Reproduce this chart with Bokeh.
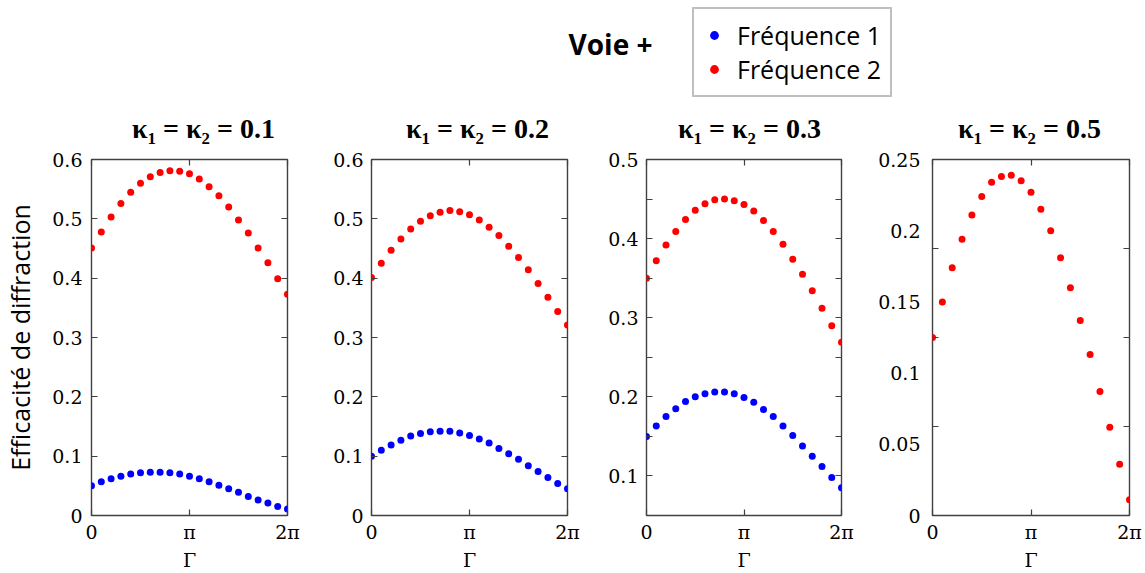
import math
from bokeh.plotting import figure
from bokeh.layouts import column, row
from bokeh.models import (Range1d, FixedTicker, LinearAxis, CustomJSTickFormatter,
                          Legend, LegendItem, Label, CustomLabelingPolicy)
from bokeh.embed import file_html
from bokeh.resources import INLINE

# ---------------- data ----------------
steps = list(range(21))                       # Γ = step * π / 10
gamma = [s * math.pi / 10 for s in steps]

titles = ["κ₁ = κ₂ = 0.1", "κ₁ = κ₂ = 0.2", "κ₁ = κ₂ = 0.3", "κ₁ = κ₂ = 0.5"]

freq2_k01 = [0.451, 0.478, 0.503, 0.526, 0.545, 0.560, 0.571, 0.578, 0.581, 0.580, 0.576,
             0.567, 0.554, 0.539, 0.520, 0.498, 0.476, 0.451, 0.426, 0.399, 0.373]
freq1_k01 = [0.050, 0.057, 0.062, 0.066, 0.070, 0.072, 0.073, 0.073, 0.072, 0.070, 0.066,
             0.062, 0.057, 0.051, 0.045, 0.039, 0.032, 0.026, 0.021, 0.015, 0.011]
freq2_k02 = [0.401, 0.425, 0.447, 0.466, 0.483, 0.496, 0.505, 0.511, 0.514, 0.512, 0.507,
             0.498, 0.486, 0.472, 0.454, 0.435, 0.414, 0.391, 0.368, 0.344, 0.321]
freq1_k02 = [0.100, 0.110, 0.119, 0.127, 0.134, 0.138, 0.141, 0.142, 0.142, 0.139, 0.135,
             0.129, 0.122, 0.113, 0.104, 0.095, 0.084, 0.074, 0.064, 0.054, 0.045]
freq2_k03 = [0.350, 0.372, 0.392, 0.409, 0.424, 0.436, 0.444, 0.449, 0.450, 0.448, 0.443,
             0.435, 0.423, 0.409, 0.393, 0.374, 0.355, 0.334, 0.312, 0.290, 0.269]
freq1_k03 = [0.150, 0.163, 0.175, 0.185, 0.194, 0.200, 0.204, 0.206, 0.206, 0.204, 0.199,
             0.193, 0.184, 0.175, 0.163, 0.151, 0.138, 0.125, 0.112, 0.098, 0.085]
freq2_k05 = [0.125, 0.150, 0.174, 0.194, 0.211, 0.224, 0.234, 0.238, 0.239, 0.235, 0.227,
             0.215, 0.200, 0.181, 0.160, 0.137, 0.113, 0.087, 0.062, 0.036, 0.011]

x_ticks = [0, math.pi, 2 * math.pi]
y_ticks_12 = [0, 0.1, 0.2, 0.3, 0.4, 0.5, 0.6]
y_ticks_3 = [0.1, 0.2, 0.3, 0.4, 0.5]
y_minor_3 = [0.15, 0.25, 0.35, 0.45]
y_ticks_4 = [0, 0.05, 0.1, 0.15, 0.2, 0.25]
y_marks_4 = [0.0625, 0.125, 0.1875]

series_labels = ["Fréquence 1", "Fréquence 2"]
y_label = "Efficacité de diffraction"
x_label = "Γ"
BLUE = "#0000ff"
RED = "#ff0000"
FRAME = "#404040"
SERIF = "DejaVu Serif"
TITLE_FONT = "Liberation Serif"
SANS = "Open Sans"

HEADER_H = 145
PANEL_H = 428

x_fmt = CustomJSTickFormatter(code="""
const r = Math.round(tick / Math.PI * 100) / 100;
if (r == 0) return '0';
if (r == 1) return 'π';
if (r == 2) return '2π';
return '';
""")
y_fmt_code = "return Number(tick.toFixed(4)).toString();"


def hidden_axis(ticker):
    ax = LinearAxis(ticker=ticker, major_label_text_font_size="0px",
                    major_label_standoff=0, axis_line_color=None,
                    major_label_policy=CustomLabelingPolicy(
                        code="for (const i of indices) { indices.unset(i) }\nreturn indices"),
                    major_tick_in=6, major_tick_out=0, minor_tick_in=0, minor_tick_out=0,
                    major_tick_line_color=FRAME, major_tick_line_width=1.2)
    return ax


def make_panel(y_range, reds, blues, width, b_left, b_right, b_top, b_bottom,
               y_major, y_minor=None, y_tick_major=True, right_marks=None,
               label_standoff=8, ylabel=None):
    p = figure(width=width, height=PANEL_H, x_range=Range1d(0, 2 * math.pi),
               y_range=Range1d(*y_range), toolbar_location=None, output_backend="svg",
               min_border_left=b_left, min_border_right=b_right,
               min_border_top=b_top, min_border_bottom=b_bottom)
    p.grid.visible = False
    p.outline_line_color = FRAME
    p.outline_line_width = 1.4
    p.outline_line_alpha = 1.0
    p.background_fill_color = "white"
    p.border_fill_color = "white"

    # bottom axis
    xa = p.xaxis[0]
    xa.ticker = FixedTicker(ticks=x_ticks)
    xa.formatter = x_fmt
    xa.axis_line_color = None
    xa.major_tick_in = 6
    xa.major_tick_out = 0
    xa.minor_tick_in = 0
    xa.minor_tick_out = 0
    xa.major_tick_line_color = FRAME
    xa.major_tick_line_width = 1.2
    xa.major_label_text_font = SERIF
    xa.major_label_text_font_size = "19px"
    xa.major_label_text_color = "black"
    xa.major_label_standoff = 5
    xa.axis_label = x_label
    xa.axis_label_text_font = SERIF
    xa.axis_label_text_font_style = "normal"
    xa.axis_label_text_font_size = "19px"
    xa.axis_label_text_color = "black"
    xa.axis_label_standoff = 3

    # left axis
    ya = p.yaxis[0]
    ya.ticker = FixedTicker(ticks=y_major, minor_ticks=(y_minor or []))
    ya.formatter = CustomJSTickFormatter(code=y_fmt_code)
    ya.axis_line_color = None
    ya.major_tick_in = 6 if y_tick_major else 0
    ya.major_tick_out = 0
    ya.minor_tick_in = 6
    ya.minor_tick_out = 0
    ya.major_tick_line_color = FRAME
    ya.minor_tick_line_color = FRAME
    ya.major_tick_line_width = 1.2
    ya.minor_tick_line_width = 1.2
    ya.major_label_text_font = SERIF
    ya.major_label_text_font_size = "19px"
    ya.major_label_text_color = "black"
    ya.major_label_standoff = label_standoff
    if ylabel:
        ya.axis_label = ylabel
        ya.axis_label_text_font = SANS
        ya.axis_label_text_font_style = "normal"
        ya.axis_label_text_font_size = "25px"
        ya.axis_label_text_color = "black"
        ya.axis_label_standoff = 12

    # mirrored tick marks (box)
    if right_marks is not None:
        p.add_layout(hidden_axis(FixedTicker(ticks=right_marks)), "right")
    else:
        p.add_layout(hidden_axis(FixedTicker(ticks=y_major + (y_minor or []))), "right")
    p.add_layout(hidden_axis(FixedTicker(ticks=x_ticks)), "above")

    if blues is not None:
        p.scatter(gamma, blues, size=7, color=BLUE, line_color=None)
    p.scatter(gamma, reds, size=7, color=RED, line_color=None)
    return p


p1 = make_panel((0, 0.6), freq2_k01, freq1_k01, 320, 91, 33, 14, 57,
                y_ticks_12, label_standoff=9, ylabel=y_label)
p2 = make_panel((0, 0.6), freq2_k02, freq1_k02, 282, 51, 35, 14, 57, y_ticks_12)
p3 = make_panel((0.05, 0.5), freq2_k03, freq1_k03, 273, 44, 34, 14, 57,
                y_ticks_3, y_minor=y_minor_3)
p4 = make_panel((0, 0.25), freq2_k05, None, 270, 55, 16, 12, 56,
                y_ticks_4, y_minor=y_marks_4, y_tick_major=False, right_marks=y_marks_4,
                label_standoff=12)

# ---------------- header: main title, legend, panel titles ----------------
h = figure(width=1145, height=HEADER_H, x_range=Range1d(0, 1145), y_range=Range1d(0, HEADER_H),
           toolbar_location=None, output_backend="svg", min_border=0)
h.axis.visible = False
h.grid.visible = False
h.outline_line_color = None
# legend proxies (same styling as the panel markers, not drawn themselves)
lb = h.scatter(gamma, freq1_k01, size=8, color=BLUE, line_color=None, visible=False)
lr = h.scatter(gamma, freq2_k01, size=8, color=RED, line_color=None, visible=False)
h.add_layout(Label(x=610, y=HEADER_H - 43, text="Voie +", text_font=SANS,
                   text_font_style="bold", text_font_size="28px", text_align="center",
                   text_baseline="middle", text_color="black"))
title_x = [203, 477, 749, 1029]
for tx, tt in zip(title_x, titles):
    h.add_layout(Label(x=tx, y=HEADER_H - 128, text=tt, text_font=TITLE_FONT,
                       text_font_style="bold", text_font_size="28px", text_align="center",
                       text_baseline="middle", text_color="black"))
legend = Legend(items=[LegendItem(label=series_labels[0], renderers=[lb]),
                       LegendItem(label=series_labels[1], renderers=[lr])],
                location=(692, HEADER_H - 97), orientation="vertical",
                border_line_color="#808080", border_line_width=2,
                background_fill_color="white", background_fill_alpha=1.0,
                label_text_font=SANS, label_text_font_size="25px", label_text_color="black",
                padding=9, spacing=0, margin=0, glyph_width=22, glyph_height=30,
                label_height=30, label_standoff=12)
h.add_layout(legend, "center")

layout = column(h, row(p1, p2, p3, p4))
open("out.html", "w").write(file_html(layout, INLINE))
